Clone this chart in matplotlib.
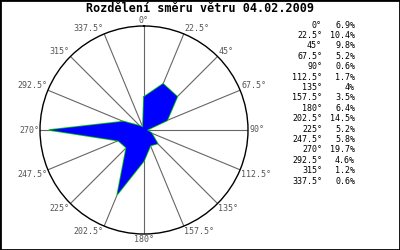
import numpy as np
import matplotlib
matplotlib.use('Agg')
from matplotlib import pyplot as plt
from matplotlib.patches import Rectangle

angles = [0, 22.5, 45, 67.5, 90, 112.5, 135, 157.5, 180, 202.5, 225, 247.5, 270, 292.5, 315, 337.5]
percents = [6.9, 10.4, 9.8, 5.2, 0.6, 1.7, 4, 3.5, 6.4, 14.5, 5.2, 5.8, 19.7, 4.6, 1.2, 0.6]
labels = ['0°', '22.5°', '45°', '67.5°', '90°', '112.5°', '135°', '157.5°', '180°',
          '202.5°', '225°', '247.5°', '270°', '292.5°', '315°', '337.5°']
pct_labels = ['6.9%', '10.4%', '9.8%', '5.2%', '0.6%', '1.7%', '4%', '3.5%', '6.4%',
              '14.5%', '5.2%', '5.8%', '19.7%', '4.6%', '1.2%', '0.6%']
title = 'Rozdělení směru větru 04.02.2009'

plt.rcParams['font.family'] = 'DejaVu Sans Mono'

fig = plt.figure(figsize=(4, 2.5), dpi=100)
fig.patches.append(Rectangle((0, 0), 1, 1, transform=fig.transFigure, fill=False,
                             edgecolor='black', linewidth=2))

ax = fig.add_axes([0.1, 0.064, 0.52, 0.832], projection='polar')
ax.set_theta_zero_location('N')
ax.set_theta_direction(-1)
rmax = max(percents) * 1.1
ax.set_ylim(0, rmax)
ax.grid(False)
ax.set_xticks([])
ax.set_yticks([])
ax.spines['polar'].set_linewidth(1)
ax.spines['polar'].set_color('black')

th = np.radians(angles)
for t in th:
    ax.plot([t, t], [0, rmax], color='#666666', linewidth=0.8, zorder=1)

th_closed = np.append(th, th[0])
r_closed = np.append(percents, percents[0])
ax.plot(th_closed, r_closed, color='#00cc00', linewidth=1.2, zorder=2)
ax.fill(th_closed, r_closed, color='blue', zorder=3, linewidth=0)

for a, t, lab in zip(angles, th, labels):
    ha = 'left' if 0 < a < 180 else ('right' if a > 180 else 'center')
    va = 'bottom' if (a < 90 or a > 270) else ('top' if 90 < a < 270 else 'center')
    ax.text(t, rmax * 1.01, lab, ha=ha, va=va, fontsize=6, color='#555555')

fig.text(0.5, 0.965, title, ha='center', va='center', fontsize=8.5, fontweight='bold')

for i, (lab, p) in enumerate(zip(labels, pct_labels)):
    y = 1 - (25 + i * 10.4) / 250
    fig.text(322 / 400, y, lab, ha='right', va='center', fontsize=6)
    fig.text(355 / 400, y, p, ha='right', va='center', fontsize=6)

fig.savefig('out.png', dpi=100)
